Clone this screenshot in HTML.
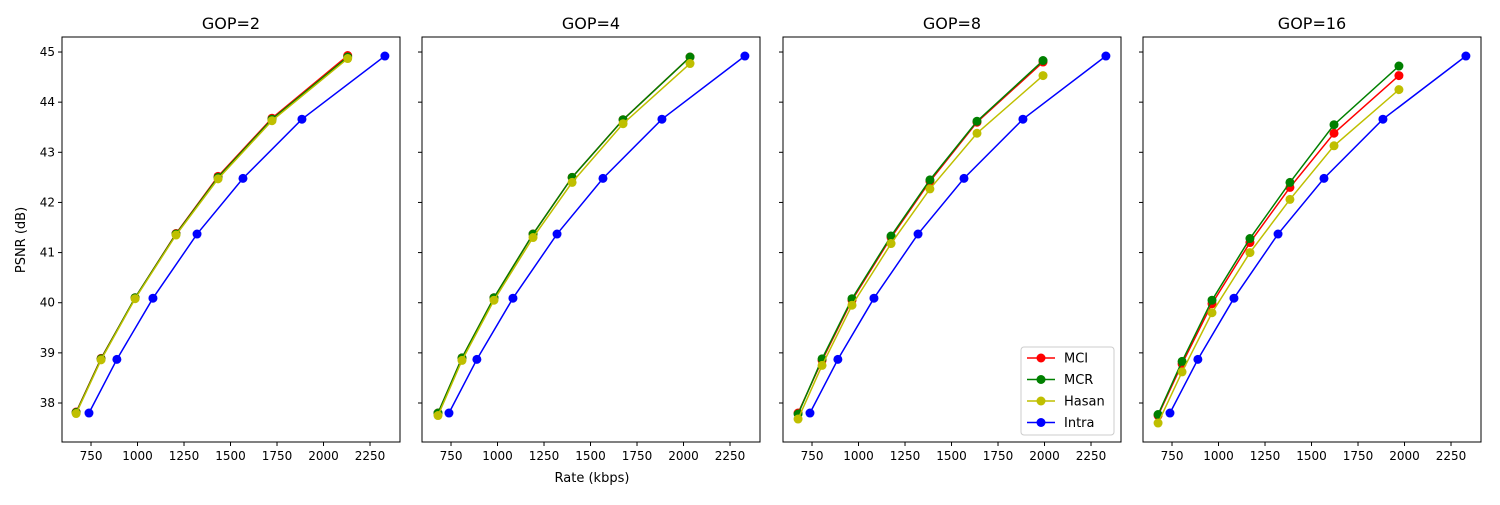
<!DOCTYPE html>
<html><head><meta charset="utf-8"><style>
body{margin:0;background:#fff;font-family:"Liberation Sans","DejaVu Sans",sans-serif;}
svg text{font-family:"DejaVu Sans","Liberation Sans",sans-serif;}
</style></head><body>
<svg id="c" width="1500" height="500"></svg>
<script>
const titles=["GOP=2","GOP=4","GOP=8","GOP=16"];
const xTicks=[750,1000,1250,1500,1750,2000,2250];
const yTicks=[38,39,40,41,42,43,44,45];
const intraX=[739,889,1083,1320,1567,1884,2330];
const intraY=[37.8,38.87,40.09,41.37,42.48,43.66,44.92];
const rateX=[[670,804,987,1207,1433,1723,2130],[680,809,981,1191,1401,1675,2035],[675,804,965,1175,1384,1637,1992],[675,804,965,1169,1384,1621,1970]];
const mciY=[[37.82,38.89,40.1,41.38,42.52,43.68,44.93],[37.8,38.9,40.1,41.37,42.5,43.65,44.9],[37.8,38.85,40.05,41.3,42.42,43.6,44.8],[37.75,38.78,39.98,41.2,42.3,43.38,44.53]];
const mcrY=[[37.81,38.88,40.1,41.37,42.5,43.66,44.9],[37.8,38.9,40.1,41.37,42.5,43.65,44.9],[37.78,38.88,40.08,41.33,42.45,43.62,44.83],[37.77,38.83,40.05,41.28,42.4,43.55,44.72]];
const hasanY=[[37.79,38.86,40.08,41.35,42.47,43.63,44.87],[37.75,38.85,40.05,41.3,42.4,43.57,44.77],[37.68,38.75,39.95,41.18,42.27,43.38,44.53],[37.6,38.62,39.8,41.0,42.06,43.13,44.25]];
const NS="http://www.w3.org/2000/svg";
const svg=document.getElementById('c');
function mk(t,a,p){const e=document.createElementNS(NS,t);for(const k in a)e.setAttribute(k,a[k]);(p||svg).appendChild(e);return e;}
const left=[62,422,783,1143],W=338,plotTop=37,bot=442;
const yS=v=>403-(v-38)*50.14;
function xS(i,v){return left[i]+(v-594)*0.186;}
for(let i=0;i<4;i++){
  const g=mk('g',{});
  
  
  const t=mk('text',{x:left[i]+W/2,y:29,'text-anchor':'middle','font-size':16},g);t.textContent=titles[i];
  
  xTicks.forEach(v=>{const x=xS(i,v);mk('line',{x1:x,x2:x,y1:bot,y2:bot+4,stroke:'#000'},g);
    const tx=mk('text',{x:x,y:bot+18,'text-anchor':'middle','font-size':12},g);tx.textContent=v;
    });
  yTicks.forEach(v=>{const y=yS(v);mk('line',{x1:left[i]-4,x2:left[i],y1:y,y2:y,stroke:'#000'},g);
    if(i==0){const ty=mk('text',{x:left[i]-7,y:y+4,'text-anchor':'end','font-size':12},g);ty.textContent=v;
    }});
  const series=[[rateX[i],mciY[i],'#ff0000','mci'],[rateX[i],mcrY[i],'#008000','mcr'],[rateX[i],hasanY[i],'#bfbf00','hasan'],[intraX,intraY,'#0000ff','intra']];
  series.forEach(s=>{const pts=s[0].map((v,k)=>xS(i,v)+','+yS(s[1][k])).join(' ');
    const pl=mk('polyline',{points:pts,fill:'none',stroke:s[2],'stroke-width':1.5},g);
    
    s[0].forEach((v,k)=>{const c=mk('circle',{cx:xS(i,v),cy:yS(s[1][k]),r:4.5,fill:s[2]},g);
      });});
  mk('rect',{x:left[i],y:plotTop,width:W,height:bot-plotTop,fill:'none',stroke:'#000','stroke-width':1},g);
}
const xl=mk('text',{x:592,y:482,'text-anchor':'middle','font-size':13});xl.textContent='Rate (kbps)';

const yl=mk('text',{x:25,y:240,'text-anchor':'middle','font-size':13,transform:'rotate(-90 25 240)'});yl.textContent='PSNR (dB)';

const lg=mk('g',{});

mk('rect',{x:1021,y:347,width:93,height:88,fill:'#fff',stroke:'#ccc',rx:3},lg);
[['MCI','#ff0000'],['MCR','#008000'],['Hasan','#bfbf00'],['Intra','#0000ff']].forEach((e,k)=>{
  const y=358+k*21.5;
  mk('line',{x1:1027,x2:1055,y1:y,y2:y,stroke:e[1],'stroke-width':1.5},lg);
  mk('circle',{cx:1041,cy:y,r:4.5,fill:e[1]},lg);
  const t=mk('text',{x:1064,y:y+4.5,'font-size':13},lg);t.textContent=e[0];
  
});
</script></body></html>
